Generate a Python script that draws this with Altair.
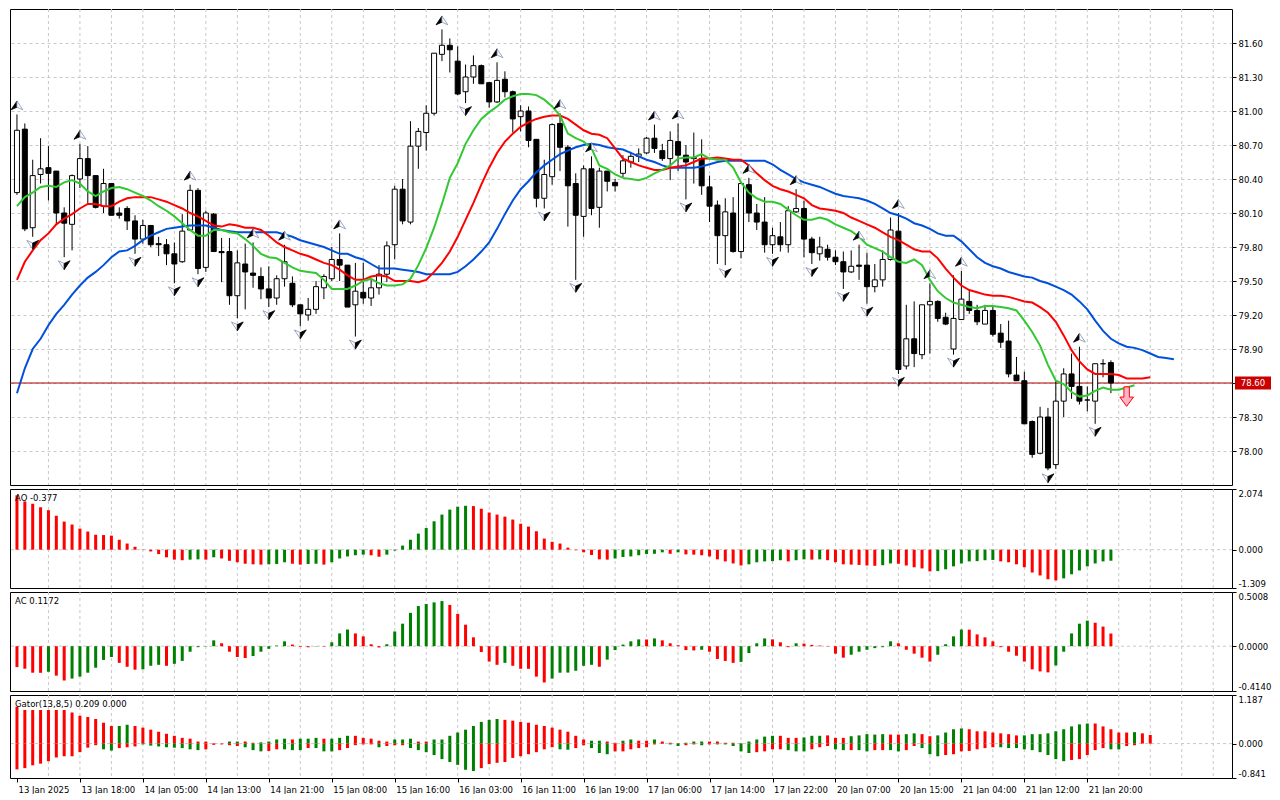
import altair as alt
import pandas as pd

# ---------------- data ----------------
time_labels = ["13 Jan 2025", "13 Jan 18:00", "14 Jan 05:00", "14 Jan 13:00", "14 Jan 21:00",
               "15 Jan 08:00", "15 Jan 16:00", "16 Jan 03:00", "16 Jan 11:00", "16 Jan 19:00",
               "17 Jan 06:00", "17 Jan 14:00", "17 Jan 22:00", "20 Jan 07:00", "20 Jan 15:00",
               "21 Jan 04:00", "21 Jan 12:00", "21 Jan 20:00"]

opens = [80.28, 80.84, 79.97, 80.44, 80.50, 80.47, 80.10, 80.00, 80.40, 80.58,
         80.43, 80.16, 80.36, 80.10, 80.14, 80.03, 79.87, 79.99, 79.83, 79.82,
         79.74, 79.67, 79.95, 80.30, 79.62, 80.09, 79.76, 79.76, 79.37, 79.65,
         79.57, 79.54, 79.43, 79.35, 79.52, 79.48, 79.29, 79.20, 79.25, 79.44,
         79.52, 79.69, 79.64, 79.29, 79.40, 79.35, 79.44, 79.56, 79.82, 80.31,
         80.02, 80.69, 80.81, 80.98, 81.50, 81.58, 81.44, 81.17, 81.30, 81.40,
         81.25, 81.08, 81.28, 81.17, 80.95, 81.00, 80.75, 80.23, 80.42, 80.89,
         80.68, 80.36, 80.07, 80.49, 80.15, 80.47, 80.37, 80.45, 80.55, 80.60,
         80.63, 80.76, 80.65, 80.58, 80.73, 80.61, 80.59, 80.58, 80.33, 80.17,
         79.90, 80.10, 79.76, 80.35, 80.10, 80.02, 79.82, 79.89, 79.82, 80.11,
         80.14, 79.87, 79.74, 79.78, 79.71, 79.67, 79.58, 79.64, 79.64, 79.45,
         79.51, 79.69, 79.94, 78.75, 78.99, 78.85, 79.29, 79.32, 79.18, 78.90,
         79.16, 79.32, 79.24, 79.12, 79.24, 79.04, 78.97, 78.67, 78.62, 78.26,
         77.98, 78.30, 77.88, 78.44, 78.68, 78.57, 78.45, 78.44, 78.77, 78.78]
highs = [80.97, 80.89, 80.57, 80.76, 80.69, 80.47, 80.15, 80.44, 80.71, 80.69,
         80.43, 80.49, 80.36, 80.15, 80.16, 80.08, 80.04, 79.99, 79.89, 79.87,
         79.84, 80.09, 80.35, 80.32, 80.12, 80.10, 79.88, 79.88, 79.77, 79.83,
         79.84, 79.62, 79.63, 79.55, 79.82, 79.54, 79.29, 79.35, 79.50, 79.56,
         79.80, 79.92, 79.64, 79.66, 79.66, 79.51, 79.64, 79.85, 80.34, 80.40,
         80.91, 80.85, 81.05, 81.51, 81.72, 81.64, 81.57, 81.41, 81.49, 81.41,
         81.25, 81.43, 81.35, 81.18, 81.05, 81.04, 80.75, 80.57, 80.89, 80.98,
         80.70, 80.45, 80.52, 80.60, 80.50, 80.47, 80.40, 80.61, 80.64, 80.67,
         80.77, 80.88, 80.71, 80.82, 80.89, 80.70, 80.81, 80.75, 80.43, 80.21,
         80.23, 80.24, 80.36, 80.41, 80.18, 80.24, 79.97, 80.02, 80.16, 80.31,
         80.21, 79.89, 79.89, 79.82, 79.77, 79.76, 79.77, 79.82, 79.75, 79.65,
         79.77, 80.06, 80.10, 79.29, 79.32, 79.29, 79.48, 79.33, 79.22, 79.55,
         79.59, 79.42, 79.29, 79.29, 79.28, 79.12, 79.15, 78.83, 78.70, 78.27,
         78.39, 78.38, 78.62, 78.73, 78.86, 78.92, 78.57, 78.77, 78.81, 78.80]
lows = [80.26, 79.94, 79.89, 80.36, 80.21, 80.00, 79.71, 79.77, 80.32, 80.18,
        80.14, 80.10, 80.08, 80.05, 79.95, 79.74, 79.83, 79.80, 79.72, 79.64,
        79.48, 79.66, 79.95, 79.56, 79.58, 79.76, 79.49, 79.29, 79.17, 79.25,
        79.44, 79.34, 79.27, 79.29, 79.45, 79.27, 79.10, 79.15, 79.21, 79.34,
        79.50, 79.50, 79.27, 79.01, 79.30, 79.28, 79.38, 79.49, 79.69, 80.00,
        80.00, 80.49, 80.65, 80.96, 81.44, 81.34, 81.14, 81.07, 81.24, 81.24,
        81.03, 81.07, 81.12, 80.81, 80.82, 80.68, 80.15, 80.14, 80.35, 80.47,
        79.98, 79.51, 79.89, 80.08, 79.97, 80.29, 80.29, 80.41, 80.50, 80.55,
        80.62, 80.63, 80.56, 80.39, 80.47, 80.22, 80.36, 80.26, 80.02, 79.65,
        79.64, 79.75, 79.70, 80.02, 79.95, 79.75, 79.74, 79.76, 79.75, 80.10,
        79.71, 79.65, 79.68, 79.68, 79.64, 79.43, 79.57, 79.51, 79.30, 79.40,
        79.45, 79.68, 78.68, 78.72, 78.74, 78.81, 78.86, 79.14, 79.11, 78.85,
        79.16, 79.21, 79.11, 79.12, 79.01, 78.91, 78.65, 78.62, 78.24, 77.94,
        77.97, 77.83, 77.84, 78.30, 78.46, 78.41, 78.35, 78.24, 78.65, 78.51]
closes = [80.83, 79.96, 80.43, 80.49, 80.45, 80.10, 80.01, 80.43, 80.58, 80.43,
          80.15, 80.36, 80.08, 80.08, 80.03, 79.87, 79.99, 79.82, 79.82, 79.74,
          79.65, 79.94, 80.30, 79.61, 80.10, 79.76, 79.75, 79.37, 79.66, 79.58,
          79.55, 79.43, 79.35, 79.52, 79.67, 79.29, 79.21, 79.25, 79.45, 79.54,
          79.69, 79.64, 79.27, 79.41, 79.35, 79.44, 79.56, 79.81, 80.31, 80.03,
          80.69, 80.82, 80.98, 81.51, 81.58, 81.54, 81.15, 81.30, 81.40, 81.24,
          81.08, 81.27, 81.17, 80.93, 81.00, 80.74, 80.23, 80.44, 80.88, 80.68,
          80.34, 80.08, 80.49, 80.14, 80.47, 80.38, 80.34, 80.56, 80.60, 80.62,
          80.76, 80.67, 80.58, 80.74, 80.61, 80.55, 80.58, 80.34, 80.16, 79.90,
          80.11, 79.76, 80.36, 80.10, 80.02, 79.82, 79.90, 79.82, 80.12, 80.14,
          79.87, 79.75, 79.80, 79.71, 79.67, 79.58, 79.63, 79.63, 79.45, 79.51,
          79.69, 79.95, 78.72, 78.99, 78.86, 79.29, 79.32, 79.17, 79.12, 79.17,
          79.34, 79.24, 79.14, 79.24, 79.03, 78.96, 78.68, 78.62, 78.24, 77.97,
          78.30, 77.85, 78.44, 78.68, 78.57, 78.44, 78.45, 78.77, 78.77, 78.60]

jaw = [78.51, 78.73, 78.90, 78.99, 79.11, 79.21, 79.29, 79.38, 79.46, 79.53,
       79.58, 79.64, 79.71, 79.76, 79.77, 79.81, 79.86, 79.90, 79.93, 79.96,
       79.97, 79.98, 79.99, 79.99, 79.99, 79.97, 79.95, 79.94, 79.93, 79.93,
       79.93, 79.93, 79.93, 79.93, 79.91, 79.89, 79.86, 79.84, 79.82, 79.80,
       79.77, 79.74, 79.74, 79.71, 79.69, 79.65, 79.61, 79.61, 79.61, 79.60,
       79.59, 79.58, 79.56, 79.56, 79.56, 79.56, 79.58, 79.63, 79.69, 79.76,
       79.84, 79.96, 80.09, 80.21, 80.31, 80.38, 80.46, 80.52, 80.57, 80.62,
       80.65, 80.68, 80.70, 80.71, 80.70, 80.68, 80.67, 80.66, 80.63, 80.60,
       80.57, 80.55, 80.52, 80.50, 80.50, 80.50, 80.50, 80.51, 80.53, 80.55,
       80.56, 80.56, 80.56, 80.56, 80.56, 80.56, 80.53, 80.48, 80.44, 80.40,
       80.37, 80.35, 80.33, 80.30, 80.27, 80.25, 80.24, 80.23, 80.21, 80.18,
       80.14, 80.10, 80.08, 80.05, 80.01, 79.99, 79.96, 79.92, 79.90, 79.90,
       79.85, 79.78, 79.71, 79.66, 79.63, 79.61, 79.58, 79.56, 79.54, 79.53,
       79.50, 79.48, 79.45, 79.42, 79.38, 79.32, 79.25, 79.15, 79.06, 78.99,
       78.95, 78.92, 78.91, 78.89, 78.86, 78.83, 78.82, 78.81]
teeth = [79.51, 79.67, 79.77, 79.86, 79.92, 80.00, 80.05, 80.09, 80.14, 80.18,
         80.18, 80.16, 80.16, 80.20, 80.23, 80.24, 80.24, 80.24, 80.22, 80.20,
         80.17, 80.14, 80.10, 80.07, 80.03, 79.99, 79.98, 80.00, 79.99, 79.97,
         79.97, 79.95, 79.90, 79.84, 79.80, 79.77, 79.74, 79.72, 79.69, 79.66,
         79.64, 79.60, 79.55, 79.51, 79.51, 79.54, 79.55, 79.54, 79.50, 79.50,
         79.50, 79.49, 79.51, 79.58, 79.66, 79.76, 79.89, 80.04, 80.19, 80.35,
         80.50, 80.63, 80.73, 80.80, 80.86, 80.90, 80.93, 80.95, 80.96, 80.96,
         80.93, 80.88, 80.83, 80.80, 80.79, 80.76, 80.67, 80.58, 80.55, 80.52,
         80.50, 80.48, 80.48, 80.50, 80.51, 80.52, 80.55, 80.58, 80.58, 80.59,
         80.58, 80.57, 80.57, 80.52, 80.45, 80.39, 80.34, 80.31, 80.29, 80.26,
         80.23, 80.17, 80.14, 80.13, 80.12, 80.10, 80.06, 80.03, 80.00, 79.97,
         79.93, 79.89, 79.86, 79.82, 79.78, 79.76, 79.76, 79.70, 79.61, 79.53,
         79.46, 79.42, 79.40, 79.38, 79.37, 79.37, 79.36, 79.34, 79.32, 79.31,
         79.27, 79.22, 79.14, 79.02, 78.89, 78.79, 78.72, 78.68, 78.68, 78.68,
         78.67, 78.64, 78.64, 78.64, 78.65]
lips = [80.16, 80.24, 80.28, 80.33, 80.34, 80.33, 80.37, 80.39, 80.36, 80.29,
        80.25, 80.29, 80.32, 80.33, 80.31, 80.28, 80.25, 80.21, 80.16, 80.12,
        80.07, 80.01, 79.95, 79.90, 79.90, 79.95, 79.95, 79.93, 79.92, 79.87,
        79.81, 79.74, 79.71, 79.70, 79.66, 79.62, 79.59, 79.58, 79.57, 79.51,
        79.43, 79.43, 79.43, 79.46, 79.50, 79.52, 79.48, 79.46, 79.46, 79.47,
        79.52, 79.64, 79.79, 79.97, 80.18, 80.41, 80.54, 80.71, 80.83, 80.93,
        80.99, 81.04, 81.10, 81.13, 81.15, 81.15, 81.14, 81.10, 81.04, 80.96,
        80.80, 80.76, 80.73, 80.67, 80.52, 80.49, 80.44, 80.41, 80.40, 80.39,
        80.41, 80.45, 80.48, 80.52, 80.58, 80.59, 80.59, 80.62, 80.58, 80.57,
        80.57, 80.50, 80.37, 80.28, 80.23, 80.20, 80.20, 80.18, 80.13, 80.08,
        80.04, 80.04, 80.06, 80.04, 80.00, 79.97, 79.94, 79.89, 79.82, 79.79,
        79.76, 79.71, 79.67, 79.66, 79.69, 79.64, 79.51, 79.41, 79.35, 79.31,
        79.29, 79.27, 79.26, 79.28, 79.28, 79.27, 79.26, 79.24, 79.15, 79.05,
        78.93, 78.76, 78.62, 78.59, 78.52, 78.48, 78.49, 78.53, 78.56, 78.54,
        78.54, 78.56, 78.58]

ao = [1.86, 1.65, 1.57, 1.45, 1.35, 1.16, 0.96, 0.86, 0.72, 0.62,
      0.51, 0.50, 0.48, 0.34, 0.21, 0.10, -0.01, -0.06, -0.15, -0.26,
      -0.34, -0.36, -0.34, -0.33, -0.34, -0.26, -0.30, -0.38, -0.43, -0.48,
      -0.50, -0.51, -0.50, -0.49, -0.43, -0.48, -0.51, -0.49, -0.48, -0.51,
      -0.43, -0.30, -0.23, -0.19, -0.17, -0.19, -0.24, -0.17, -0.03, 0.14,
      0.34, 0.55, 0.74, 0.97, 1.20, 1.37, 1.47, 1.50, 1.49, 1.40,
      1.27, 1.20, 1.13, 1.03, 0.89, 0.79, 0.63, 0.38, 0.27, 0.21,
      0.07, -0.02, -0.09, -0.18, -0.33, -0.34, -0.30, -0.25, -0.23, -0.19,
      -0.15, -0.14, -0.09, -0.14, -0.09, -0.16, -0.17, -0.19, -0.23, -0.33,
      -0.40, -0.47, -0.54, -0.50, -0.43, -0.40, -0.39, -0.36, -0.40, -0.36,
      -0.33, -0.34, -0.33, -0.36, -0.43, -0.50, -0.51, -0.52, -0.54, -0.55,
      -0.53, -0.47, -0.48, -0.54, -0.60, -0.64, -0.74, -0.73, -0.67, -0.57,
      -0.47, -0.40, -0.39, -0.36, -0.35, -0.40, -0.43, -0.50, -0.60, -0.78,
      -0.88, -1.01, -1.05, -0.98, -0.84, -0.71, -0.57, -0.47, -0.40, -0.377]
ao_dir = ("rrrrrrrrrr" "rrrrrrrrrr" "rrggrgrrrr" "rrgggrrggr" "gggggrrggg"
          "ggggggggrr" "rrrrrrrrrr" "rrrrrrgggg" "gggrgrrrrr" "rrrgggggrg"
          "grgrrrrrrr" "ggrrrrrggg" "gggggrrrrr" "rrrggggggg")

ac = [-0.193, -0.208, -0.245, -0.246, -0.236, -0.272, -0.317, -0.299, -0.281, -0.245,
      -0.199, -0.127, -0.100, -0.154, -0.190, -0.217, -0.214, -0.181, -0.172, -0.181,
      -0.163, -0.136, -0.051, -0.009, -0.003, 0.054, 0.027, -0.051, -0.100, -0.109,
      -0.091, -0.051, -0.024, 0.006, 0.045, 0.015, -0.006, -0.010, -0.003, -0.004,
      0.036, 0.118, 0.154, 0.118, 0.091, 0.018, -0.012, 0.018, 0.136, 0.208,
      0.308, 0.371, 0.390, 0.405, 0.417, 0.381, 0.299, 0.199, 0.082, -0.054,
      -0.142, -0.172, -0.154, -0.181, -0.208, -0.209, -0.281, -0.335, -0.299, -0.245,
      -0.244, -0.227, -0.181, -0.172, -0.190, -0.124, -0.036, 0.015, 0.045, 0.063,
      0.062, 0.072, 0.054, 0.027, 0.009, -0.036, -0.039, -0.033, -0.051, -0.118,
      -0.136, -0.154, -0.145, -0.063, 0.027, 0.072, 0.063, 0.036, -0.009, 0.027,
      0.024, 0.012, 0.006, -0.003, -0.069, -0.106, -0.079, -0.051, -0.033, -0.018,
      -0.009, 0.045, 0.027, -0.033, -0.069, -0.106, -0.142, -0.079, 0.018, 0.091,
      0.154, 0.153, 0.109, 0.082, 0.045, -0.009, -0.051, -0.088, -0.142, -0.214,
      -0.233, -0.242, -0.178, -0.051, 0.118, 0.208, 0.236, 0.217, 0.181, 0.1172]
ac_dir = ("rrrrgrrggg" "gggrrrgggr" "ggggggrrrr" "gggggrrrgr" "gggrrrrggg"
          "gggggrrrrr" "rrgrrrrrgg" "ggggrggggg" "rgrrrrrgrr" "rrggggrrrg"
          "rrrrrrgggg" "ggrrrrrggg" "grrrrrrrrr" "rrgggggrrr")

gator_up = [0.90, 0.82, 0.82, 0.82, 0.82, 0.82, 0.82, 0.76, 0.68, 0.65,
            0.60, 0.51, 0.43, 0.43, 0.46, 0.43, 0.39, 0.34, 0.29, 0.24,
            0.19, 0.14, 0.12, 0.05, 0.05, 0.01, 0.003, 0.05, 0.05, 0.05,
            0.02, 0.03, 0.05, 0.10, 0.12, 0.10, 0.12, 0.12, 0.14, 0.12,
            0.12, 0.14, 0.19, 0.19, 0.14, 0.12, 0.07, 0.05, 0.10, 0.10,
            0.12, 0.05, 0.05, 0.10, 0.10, 0.19, 0.27, 0.34, 0.43, 0.53,
            0.58, 0.60, 0.58, 0.56, 0.53, 0.51, 0.46, 0.43, 0.39, 0.34,
            0.29, 0.19, 0.10, 0.07, 0.07, 0.05, 0.02, 0.07, 0.10, 0.07,
            0.07, 0.10, 0.05, 0.02, 0.01, 0.02, 0.05, 0.05, 0.05, 0.05,
            0.02, 0.02, 0.01, 0.05, 0.10, 0.17, 0.19, 0.19, 0.14, 0.14,
            0.15, 0.19, 0.19, 0.20, 0.14, 0.14, 0.18, 0.20, 0.23, 0.22,
            0.23, 0.22, 0.22, 0.23, 0.25, 0.23, 0.18, 0.20, 0.27, 0.35,
            0.37, 0.35, 0.30, 0.30, 0.27, 0.25, 0.23, 0.20, 0.20, 0.23,
            0.23, 0.25, 0.30, 0.35, 0.42, 0.47, 0.49, 0.49, 0.42, 0.35,
            0.27, 0.27, 0.28, 0.25, 0.209]
gator_up_dir = ("rrrrrrrrrr" "rrrggrrrrr" "rrrrrrrggr" "rggggrgggr" "gggrrrrrgg"
                "grrggggggg" "ggrrrrrrrr" "rrrggrrggr" "rgrrrgggrr" "rrrggggrrr"
                "gggrrrgggg" "grrggrrggg" "grrrrrrrgg" "gggggggrrr" "rrgrr")
gator_dn = [-0.63, -0.60, -0.53, -0.49, -0.43, -0.34, -0.31, -0.31, -0.21, -0.10,
            -0.04, -0.14, -0.17, -0.11, -0.09, -0.07, -0.02, -0.05, -0.07, -0.09,
            -0.10, -0.11, -0.14, -0.16, -0.14, -0.03, -0.02, -0.04, -0.06, -0.09,
            -0.16, -0.19, -0.18, -0.14, -0.14, -0.16, -0.16, -0.11, -0.11, -0.19,
            -0.19, -0.16, -0.11, -0.04, -0.02, -0.02, -0.09, -0.06, -0.04, -0.04,
            -0.11, -0.16, -0.21, -0.28, -0.38, -0.45, -0.52, -0.64, -0.67, -0.60,
            -0.50, -0.47, -0.45, -0.35, -0.31, -0.26, -0.21, -0.14, -0.09, -0.14,
            -0.15, -0.11, -0.04, -0.11, -0.23, -0.26, -0.19, -0.19, -0.14, -0.11,
            -0.09, -0.02, -0.01, -0.02, -0.06, -0.04, -0.02, -0.04, -0.02, -0.02,
            -0.02, -0.06, -0.19, -0.23, -0.21, -0.19, -0.14, -0.14, -0.16, -0.19,
            -0.19, -0.14, -0.09, -0.06, -0.14, -0.16, -0.16, -0.16, -0.19, -0.16,
            -0.16, -0.16, -0.19, -0.16, -0.06, -0.11, -0.26, -0.31, -0.28, -0.26,
            -0.19, -0.18, -0.14, -0.11, -0.09, -0.09, -0.11, -0.11, -0.14, -0.16,
            -0.21, -0.28, -0.38, -0.43, -0.40, -0.38, -0.28, -0.16, -0.11, -0.14,
            -0.14, -0.06, -0.04]
gator_dn_dir = ("rrrrrrrrrr" "rggrrrgggg" "ggggrrrrrg" "ggrrgggrgg" "grrrrrgrrr"
                "gggggggggr" "rrrrrrrrrg" "grrgggrrrr" "rrrggrrgrg" "ggggrrrrgg"
                "grrrggrggr" "rggrrgggrr" "rrrrrggggg" "ggggrrrrrg" "grr")

fractal_up = [0, 8, 22, 30, 34, 41, 54, 61, 69, 73, 81, 84, 93, 99, 107, 112, 116, 120, 135]
fractal_dn = [2, 6, 15, 20, 23, 28, 32, 36, 43, 57, 67, 71, 85, 90, 96, 101, 105, 108, 112,
              119, 131, 137]

price_ticks = [78.00, 78.30, 78.60, 78.90, 79.20, 79.50, 79.80, 80.10, 80.40, 80.70,
               81.00, 81.30, 81.60]
last_price = 78.60
signal_bar = 141
signal_price = 78.48

# ---------------- layout / style ----------------
W = 1222
H_MAIN, H_AO, H_AC, H_GT = 476, 99, 99, 83
FONT = "DejaVu Sans"
FS = 8.5
GRID = "#c8c8c8"
xs = alt.Scale(domain=[-0.25, 153.75], nice=False, zero=False)
hist_colors = alt.Scale(domain=["g", "r"], range=["#008000", "#ff0000"])
grid_df = pd.DataFrame({"k": list(range(4, 154, 4))})


def signed_fmt(fmt):
    return f"(datum.value < 0 ? '-' : '') + format(abs(datum.value), '{fmt}')"


def right_axis(values, fmt):
    return alt.Axis(orient="right", values=values, labelExpr=signed_fmt(fmt), labelFlush=True,
                    grid=False, tickSize=4, labelPadding=2, title=None, domain=False)


def make_panel(h, yscale, yaxis, xaxis, builders, title=None):
    def X(field="k"):
        return alt.X(f"{field}:Q", scale=xs, axis=xaxis)

    def Y(field):
        return alt.Y(f"{field}:Q", scale=yscale, axis=yaxis)

    out = [alt.Chart(grid_df).mark_rule(color=GRID, strokeDash=[3, 3], strokeWidth=1).encode(
        x=X(), y=alt.value(0), y2=alt.value(h))]
    for build in builders:
        out.append(build(X, Y))
    if title is not None:
        out.append(alt.Chart(pd.DataFrame({"t": [title]})).mark_text(
            align="left", baseline="middle", font=FONT, fontSize=FS, color="black").encode(
            x=alt.value(5), y=alt.value(9), text="t:N"))
    return alt.layer(*out).properties(width=W, height=h)


# ---------------- main price panel ----------------
bars = pd.DataFrame({"k": list(range(len(opens))), "o": opens, "h": highs, "l": lows, "c": closes})
bars["dir"] = ["up" if c > o else "down" for o, c in zip(opens, closes)]
ys = alt.Scale(domain=[77.70, 81.90], nice=False, zero=False)
main_axis = alt.Axis(orient="right", values=price_ticks, format=".2f", grid=True, gridColor=GRID,
                     gridDash=[3, 3], tickSize=4, labelPadding=2, title=None, domain=False)

UP_L = "M0,-0.75L-1,0.75L0,0.3Z"
UP_R = "M0,-0.75L1,0.75L0,0.3Z"
DN_L = "M0,0.75L-1,-0.75L0,-0.3Z"
DN_R = "M0,0.75L1,-0.75L0,-0.3Z"
ARROW = "M-0.28,-1H0.28V0.05H0.7L0,1L-0.7,0.05H-0.28Z"
fu = bars[bars.k.isin(fractal_up)]
fd = bars[bars.k.isin(fractal_dn)]
lp_df = pd.DataFrame({"p": [last_price], "t": [f"{last_price:.2f}"]})
sig_df = pd.DataFrame({"k": [signal_bar], "p": [signal_price]})


def line_layer(vals, color):
    df = pd.DataFrame({"k": list(range(len(vals))), "v": vals})
    return lambda X, Y: alt.Chart(df).mark_line(color=color, strokeWidth=2).encode(x=X(), y=Y("v"))


def frac_layer(df, field, shape, fill, stroke, off):
    return lambda X, Y: alt.Chart(df).mark_point(
        shape=shape, size=140, filled=True, fill=fill, stroke=stroke, strokeWidth=0.8, opacity=1,
        yOffset=off).encode(x=X(), y=Y(field))


main_layers = [
    lambda X, Y: alt.Chart(lp_df).mark_rule(color="#b00000", strokeWidth=1).encode(y=Y("p")),
    lambda X, Y: alt.Chart(bars).mark_rule(color="black", strokeWidth=1).encode(
        x=X(), y=Y("l"), y2="h:Q"),
    lambda X, Y: alt.Chart(bars).mark_bar(size=5, stroke="black", strokeWidth=1).encode(
        x=X(), y=Y("o"), y2="c:Q",
        color=alt.Color("dir:N", scale=alt.Scale(domain=["up", "down"], range=["white", "black"]),
                        legend=None)),
    line_layer(jaw, "#0050dc"),
    line_layer(teeth, "#ff0000"),
    line_layer(lips, "#32c832"),
    frac_layer(fu, "h", UP_L, "black", "black", -9),
    frac_layer(fu, "h", UP_R, "white", "#8090b0", -9),
    frac_layer(fd, "l", DN_L, "white", "#8090b0", 8),
    frac_layer(fd, "l", DN_R, "black", "black", 8),
    lambda X, Y: alt.Chart(sig_df).mark_point(
        shape=ARROW, size=380, filled=True, fill="#ffb4c8", stroke="#ff0000", strokeWidth=1,
        opacity=1).encode(x=X(), y=Y("p")),
    lambda X, Y: alt.Chart(lp_df).mark_point(
        shape="M-1,-0.36H1V0.36H-1Z", size=1296, filled=True, fill="#cc0000", strokeWidth=0,
        opacity=1).encode(x=alt.value(W + 21), y=Y("p")),
    lambda X, Y: alt.Chart(lp_df).mark_text(
        color="white", font=FONT, fontSize=FS, align="center", baseline="middle").encode(
        x=alt.value(W + 21), y=Y("p"), text="t:N"),
]
main = make_panel(H_MAIN, ys, main_axis, None, main_layers)


# ---------------- histogram panels ----------------
def hist_layer(vals, dirs):
    df = pd.DataFrame({"k": list(range(len(vals))), "v": vals, "d": list(dirs)})
    return lambda X, Y: alt.Chart(df).mark_bar(size=3).encode(
        x=X(), y=Y("v"), y2=alt.datum(0), color=alt.Color("d:N", scale=hist_colors, legend=None))


def zero_layer():
    zdf = pd.DataFrame({"z": [0.0]})
    return lambda X, Y: alt.Chart(zdf).mark_rule(color=GRID, strokeDash=[3, 3]).encode(y=Y("z"))


ao_s = alt.Scale(domain=[-1.309, 2.074], nice=False, zero=False)
ao_panel = make_panel(H_AO, ao_s, right_axis([2.074, 0.0, -1.309], ".3f"), None,
                      [zero_layer(), hist_layer(ao, ao_dir)], title=f"AO {ao[-1]:.3f}")

ac_s = alt.Scale(domain=[-0.4140, 0.5008], nice=False, zero=False)
ac_panel = make_panel(H_AC, ac_s, right_axis([0.5008, 0.0, -0.4140], ".4f"), None,
                      [zero_layer(), hist_layer(ac, ac_dir)], title=f"AC {ac[-1]:.4f}")

gt_s = alt.Scale(domain=[-0.841, 1.187], nice=False, zero=False)
label_js = "[" + ",".join(f"'{t}'" for t in time_labels) + "]"
time_axis = alt.Axis(values=[8 * i for i in range(len(time_labels))],
                     labelExpr=label_js + "[round(datum.value / 8)]", labelAlign="left",
                     labelPadding=3, labelOffset=1, tickSize=4, grid=False, domain=False,
                     title=None, labelFlush=False, labelOverlap=False, labelBound=False)
gt_panel = make_panel(H_GT, gt_s, right_axis([1.187, 0.0, -0.841], ".3f"), time_axis,
                      [zero_layer(), hist_layer(gator_up, gator_up_dir),
                       hist_layer(gator_dn, gator_dn_dir)],
                      title=f"Gator(13,8,5) {gator_up[-1]:.3f} 0.000")

chart = alt.vconcat(main, ao_panel, ac_panel, gt_panel, spacing=2).resolve_scale(
    color="independent"
).properties(padding=0, background="white").configure_view(
    stroke="black", strokeWidth=1
).configure_axis(
    labelFont=FONT, labelFontSize=FS, labelColor="black", tickColor="black", tickWidth=1
)

chart.save("out.html", embed_options={"renderer": "svg", "actions": False})
